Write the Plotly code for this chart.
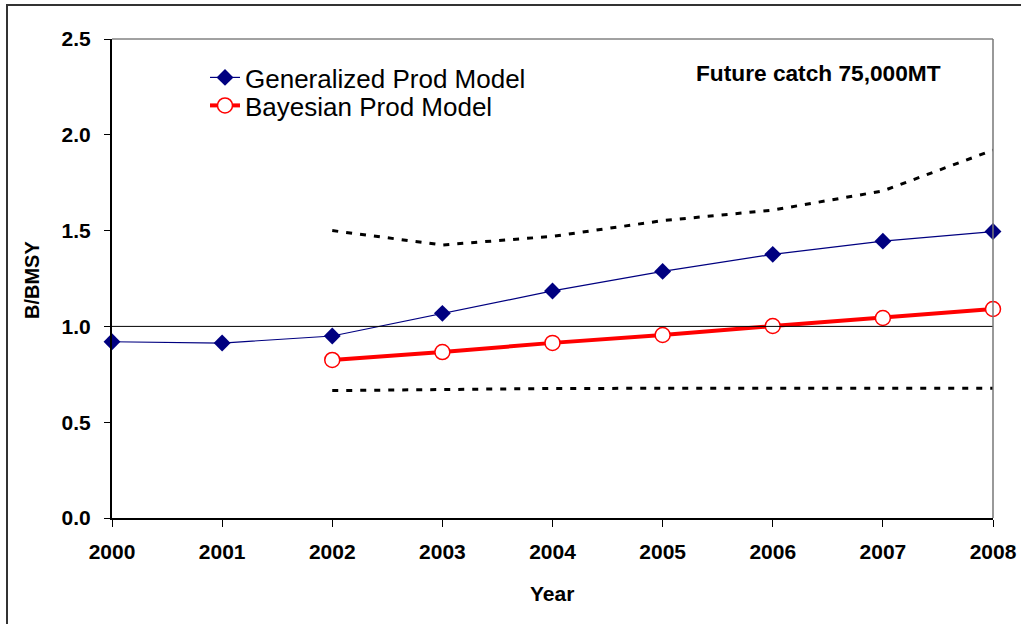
import plotly.graph_objects as go

years = [2000, 2001, 2002, 2003, 2004, 2005, 2006, 2007, 2008]
gen_prod = [0.92, 0.913, 0.95, 1.068, 1.185, 1.287, 1.376, 1.445, 1.495]
bayes_years = [2002, 2003, 2004, 2005, 2006, 2007, 2008]
bayes_prod = [0.825, 0.866, 0.914, 0.955, 1.002, 1.044, 1.091]
upper_ci = [1.50, 1.425, 1.47, 1.552, 1.607, 1.707, 1.92]
lower_ci = [0.665, 0.671, 0.676, 0.677, 0.677, 0.677, 0.677]
x_ticks = [2000, 2001, 2002, 2003, 2004, 2005, 2006, 2007, 2008]
y_ticks = [0.0, 0.5, 1.0, 1.5, 2.0, 2.5]

FONT = "Liberation Sans, Arial, sans-serif"

W, H = 1021, 624
L, T, PW, PH = 112, 39, 881, 479


def px(xf):
    return (xf - L) / PW


def py(yf):
    return (T + PH - yf) / PH


fig = go.Figure()

fig.add_trace(go.Scatter(
    x=bayes_years, y=upper_ci, mode="lines", showlegend=False,
    line=dict(color="black", width=3, dash="6px,8px"), hoverinfo="skip"))
fig.add_trace(go.Scatter(
    x=bayes_years, y=lower_ci, mode="lines", showlegend=False,
    line=dict(color="black", width=3, dash="6px,8px"), hoverinfo="skip"))

fig.add_trace(go.Scatter(
    x=years, y=gen_prod, mode="lines+markers", name="Generalized Prod Model",
    line=dict(color="#000080", width=1.2),
    marker=dict(symbol="diamond", size=13, color="#000080"),
    cliponaxis=False, legend="legend"))
fig.add_trace(go.Scatter(
    x=bayes_years, y=bayes_prod, mode="lines+markers", name="Bayesian Prod Model",
    line=dict(color="#ff0000", width=4),
    marker=dict(symbol="circle", size=15, color="white",
                line=dict(color="#ff0000", width=1.5)),
    cliponaxis=False, legend="legend2"))

leg_common = dict(xanchor="left", yanchor="top", bgcolor="rgba(0,0,0,0)",
                  font=dict(family=FONT, size=26, color="black"),
                  itemwidth=30)

fig.update_layout(
    width=W, height=H,
    margin=dict(l=L, r=W - L - PW, t=T, b=H - T - PH, autoexpand=False),
    paper_bgcolor="white", plot_bgcolor="white",
    font=dict(family=FONT, color="black"),
    showlegend=True,
    legend=dict(x=px(205), y=py(78 - 24), **leg_common),
    legend2=dict(x=px(205), y=py(106 - 24), **leg_common),
    shapes=[
        dict(type="line", xref="paper", yref="y", x0=0, x1=1, y0=1.0, y1=1.0,
             line=dict(color="black", width=1)),
        dict(type="line", xref="paper", yref="paper", x0=0, x1=1, y0=1, y1=1,
             line=dict(color="#444444", width=1)),
        dict(type="line", xref="paper", yref="paper", x0=1, x1=1, y0=0, y1=1,
             line=dict(color="#777777", width=1.5)),
        dict(type="rect", xref="paper", yref="paper",
             x0=px(7), x1=px(1040), y0=py(640), y1=py(5),
             line=dict(color="#333333", width=2), layer="below"),
    ],
    annotations=[
        dict(text="<b>Future catch 75,000MT</b>", xref="paper", yref="paper",
             x=px(694), y=py(73), xanchor="left", yanchor="middle", showarrow=False,
             font=dict(family=FONT, size=22.7, color="black")),
        dict(text="<b>Year</b>", xref="paper", yref="paper",
             x=px(552), y=py(593), xanchor="center",
             yanchor="middle", showarrow=False,
             font=dict(family=FONT, size=21, color="black")),
        dict(text="<b>B/BMSY</b>", xref="paper", yref="paper",
             x=px(32), y=py(280), xanchor="center", yanchor="middle",
             textangle=-90, showarrow=False,
             font=dict(family=FONT, size=20, color="black")),
    ],
)

fig.update_xaxes(
    range=[2000, 2008], tickvals=x_ticks, ticktext=[f"<b>{v}</b>" for v in x_ticks],
    showgrid=False, zeroline=False, showline=True, linecolor="black", linewidth=2,
    ticks="outside", ticklen=7, tickwidth=1, tickcolor="black",
    tickfont=dict(family=FONT, size=21, color="black"),
    ticklabelstandoff=7, automargin=False,
)
fig.update_yaxes(
    range=[0, 2.5], tickvals=y_ticks, ticktext=[f"<b>{v:.1f}</b>" for v in y_ticks],
    showgrid=False, zeroline=False, showline=True, linecolor="black", linewidth=2,
    ticks="outside", ticklen=6, tickwidth=1, tickcolor="black",
    tickfont=dict(family=FONT, size=21, color="black"),
    ticklabelstandoff=9, automargin=False,
)

fig.write_html(
    "out.html",
    config={"displayModeBar": False},
    post_script="document.body.style.margin='0';document.body.style.overflow='hidden';",
)
